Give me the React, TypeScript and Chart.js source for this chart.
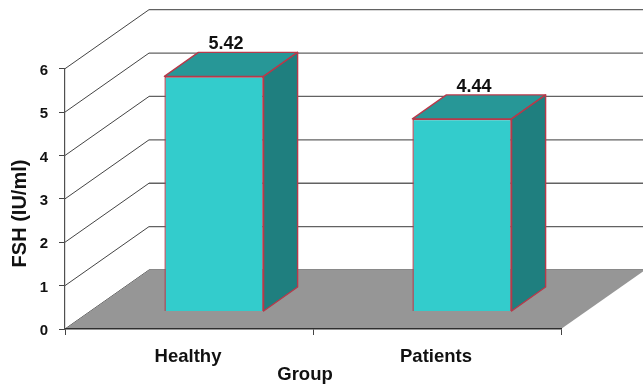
import React, { useEffect, useRef } from "react";
import { Chart, registerables } from "chart.js";

Chart.register(...registerables);

const categories = ["Healthy", "Patients"];
const fshValues = [5.42, 4.44];
const valueLabels = ["5.42", "4.44"];
const yTitle = "FSH (IU/ml)";
const xTitle = "Group";

const FONT = "'Liberation Sans', Arial, sans-serif";
const BAR_EDGE = "#b8394a";

// Projection used for the fake 3D box: wall depth, bar inset from the front plane, bar depth.
const WALL_DX = 84;
const WALL_DY = -59;
const INSET_DX = 25;
const INSET_DY = -17.5;
const BAR_DX = 34;
const BAR_DY = -24;

const box3d = {
  id: "box3d",
  beforeDraw(chart: any) {
    const { ctx, chartArea: a, scales } = chart;
    const y = scales.y;
    ctx.save();
    ctx.fillStyle = "#ffffff";
    ctx.fillRect(0, 0, chart.width, chart.height);

    // side-wall and back-wall gridlines
    y.ticks.forEach((t: any) => {
      const py = y.getPixelForValue(t.value);
      ctx.lineWidth = 1;
      ctx.strokeStyle = "#444444";
      ctx.beginPath();
      ctx.moveTo(a.left, py);
      ctx.lineTo(a.left + WALL_DX, py + WALL_DY);
      ctx.stroke();
      ctx.lineWidth = 1.3;
      ctx.strokeStyle = "#626262";
      ctx.beginPath();
      ctx.moveTo(a.left + WALL_DX, py + WALL_DY);
      ctx.lineTo(a.right + WALL_DX, py + WALL_DY);
      ctx.stroke();
    });

    // grey floor
    ctx.fillStyle = "#969696";
    ctx.beginPath();
    ctx.moveTo(a.left, a.bottom);
    ctx.lineTo(a.right, a.bottom);
    ctx.lineTo(a.right + WALL_DX, a.bottom + WALL_DY);
    ctx.lineTo(a.left + WALL_DX, a.bottom + WALL_DY);
    ctx.closePath();
    ctx.fill();

    // axis titles sit off-centre relative to the front plane
    ctx.fillStyle = "#111111";
    ctx.textAlign = "center";
    ctx.textBaseline = "middle";
    ctx.font = `bold 18.5px ${FONT}`;
    ctx.fillText(xTitle, 305, 375);
    ctx.save();
    ctx.translate(20, 213.5);
    ctx.rotate(-Math.PI / 2);
    ctx.font = `bold 20px ${FONT}`;
    ctx.fillText(yTitle, 0, 0);
    ctx.restore();
    ctx.restore();
  },
  beforeDatasetsDraw(chart: any) {
    const { ctx } = chart;
    const meta = chart.getDatasetMeta(0);
    ctx.save();
    ctx.translate(INSET_DX, INSET_DY);
    meta.data.forEach((bar: any) => {
      const w = bar.width / 2;
      const l = bar.x - w;
      const r = bar.x + w;
      ctx.strokeStyle = BAR_EDGE;
      ctx.lineWidth = 1.4;
      ctx.lineJoin = "round";
      // top face
      ctx.fillStyle = "#279797";
      ctx.beginPath();
      ctx.moveTo(l, bar.y);
      ctx.lineTo(r, bar.y);
      ctx.lineTo(r + BAR_DX, bar.y + BAR_DY);
      ctx.lineTo(l + BAR_DX, bar.y + BAR_DY);
      ctx.closePath();
      ctx.fill();
      ctx.stroke();
      // right face
      ctx.fillStyle = "#1f7f7f";
      ctx.beginPath();
      ctx.moveTo(r, bar.y);
      ctx.lineTo(r + BAR_DX, bar.y + BAR_DY);
      ctx.lineTo(r + BAR_DX, bar.base + BAR_DY);
      ctx.lineTo(r, bar.base);
      ctx.closePath();
      ctx.fill();
      ctx.stroke();
    });
  },
  afterDatasetsDraw(chart: any) {
    const { ctx } = chart;
    const meta = chart.getDatasetMeta(0);
    ctx.restore();
    ctx.save();
    ctx.font = `bold 18px ${FONT}`;
    ctx.fillStyle = "#111111";
    ctx.textAlign = "center";
    ctx.textBaseline = "middle";
    meta.data.forEach((bar: any, i: number) => {
      ctx.fillText(
        valueLabels[i],
        bar.x + INSET_DX + 12,
        bar.y + INSET_DY + BAR_DY - 8
      );
    });
    ctx.restore();
  },
};

export default function App() {
  const ref = useRef<HTMLCanvasElement>(null);

  useEffect(() => {
    const chart = new Chart(ref.current as HTMLCanvasElement, {
      type: "bar",
      data: {
        labels: categories,
        datasets: [
          {
            label: yTitle,
            data: fshValues,
            backgroundColor: "#33cccc",
            borderColor: BAR_EDGE,
            borderWidth: 1.4,
            categoryPercentage: 1,
            barPercentage: 0.4,
            clip: false,
          } as any,
        ],
      },
      options: {
        responsive: false,
        animation: false,
        layout: { padding: { top: 68.7, right: 82, left: 0, bottom: 0 } },
        plugins: { legend: { display: false }, tooltip: { enabled: false } },
        scales: {
          x: {
            type: "category",
            offset: true,
            afterFit(s: any) {
              s.height = 56;
            },
            grid: {
              offset: true,
              drawOnChartArea: false,
              drawTicks: true,
              tickLength: 6,
              color: "#444444",
            },
            border: { color: "#2e2e2e", width: 1.5 },
            ticks: {
              color: "#111111",
              padding: 11,
              maxRotation: 0,
              labelOffset: -1,
              font: { family: FONT, size: 18.5, weight: "bold" },
            },
          },
          y: {
            type: "linear",
            min: 0,
            max: 6,
            afterFit(s: any) {
              s.width = 65;
            },
            grid: {
              drawOnChartArea: false,
              drawTicks: true,
              tickLength: 6,
              color: "#444444",
            },
            border: { color: "#505050", width: 1.2 },
            ticks: {
              stepSize: 1,
              color: "#111111",
              padding: 11,
              labelOffset: 2,
              font: { family: FONT, size: 15, weight: "bold" },
            },
          },
        },
      },
      plugins: [box3d],
    } as any);
    return () => chart.destroy();
  }, []);

  return (
    <div style={{ position: "absolute", left: 0, top: 0, width: 643, height: 385 }}>
      <canvas ref={ref} width={643} height={385} style={{ display: "block" }} />
    </div>
  );
}
